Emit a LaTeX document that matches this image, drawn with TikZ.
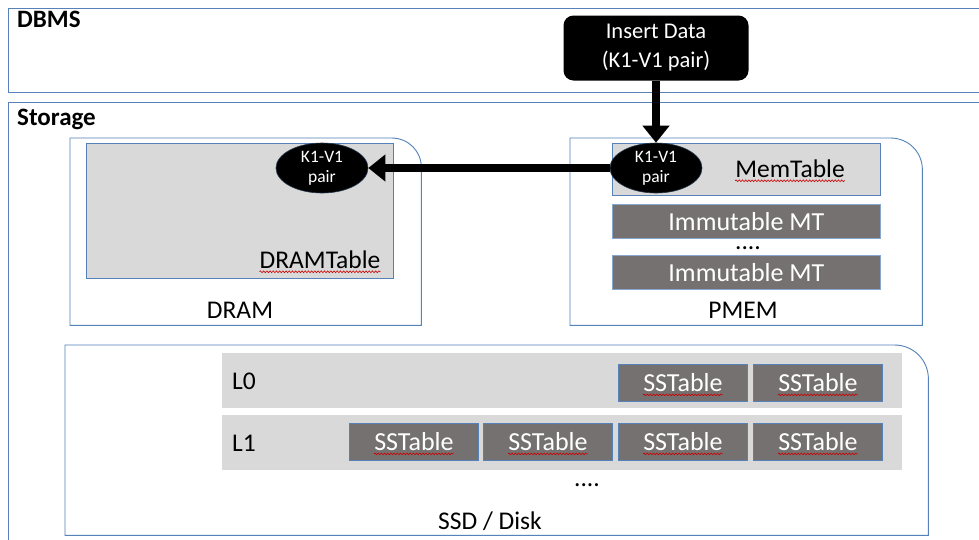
\documentclass[tikz,border=0pt]{standalone}
\usepackage{fontspec}
\setmainfont{Carlito}
\usepackage{tikz}
\usetikzlibrary{arrows.meta,positioning,shapes.geometric,decorations.pathmorphing}
\definecolor{ln}{RGB}{84,130,185}
\definecolor{tblfill}{RGB}{217,217,217}
\definecolor{mtfill}{RGB}{118,113,113}

\begin{document}
\begin{tikzpicture}[
  x=1pt, y=-1pt, every node/.style={inner sep=0pt},
  area/.style={draw=ln, line width=0.9pt, anchor=north west},
  tier/.style={anchor=north west},
  outline/.style={draw=ln, line width=0.9pt},
  title/.style={anchor=base west, font=\fontsize{25}{30}\selectfont\bfseries},
  lbl/.style={font=\fontsize{25.5}{30}\selectfont},
  tbl/.style={draw=ln, line width=0.8pt, fill=tblfill, anchor=north west, minimum width=268pt},
  imm/.style={draw=ln!70, line width=0.8pt, fill=mtfill, text=white, anchor=north west, minimum width=268pt, minimum height=34pt, font=\fontsize{26}{30}\selectfont},
  band/.style={fill=tblfill, anchor=north west, minimum width=680pt, minimum height=55pt},
  sst/.style={draw=ln, line width=0.9pt, fill=mtfill, text=white, anchor=north west, minimum width=129pt, minimum height=37pt, font=\fontsize{26}{30}\selectfont},
  kv/.style={ellipse, fill=black, draw=ln!40!black, line width=0.6pt, text=white, align=center, minimum width=92pt, minimum height=50pt, font=\fontsize{17.5}{20}\selectfont},
  ins/.style={fill=black, rounded corners=10pt, text=white, align=center, minimum width=185pt, minimum height=65pt, font=\fontsize{22.5}{29}\selectfont},
  rel/.style={draw, line width=8pt, -{Triangle[length=17pt, width=26pt]}},
  spell/.style={draw=red!80!black, line width=0.6pt, decorate, decoration={snake, amplitude=0.9pt, segment length=3.2pt}}
]
\useasboundingbox (0,0) rectangle (979,539);
\fill[white] (0,0) rectangle (979,539);

\node[area, minimum width=990pt, minimum height=84pt] (dbms) at (8,8) {};
\node[title] (dbmst) at (17,27) {DBMS};
\node[area, minimum width=990pt, minimum height=460pt] (storage) at (8,102) {};
\node[title] (storaget) at (17,125) {Storage};

\node[tier, minimum width=351pt, minimum height=187pt] (dram) at (70,138) {};
\node[tier, minimum width=352pt, minimum height=187pt] (pmem) at (570,138) {};
\node[tier, minimum width=863pt, minimum height=190pt] (ssd) at (65,345) {};
\foreach \t/\r/\c in {dram/30/13,pmem/32/14,ssd/34/15}
  \draw[outline] (\t.south west) -- (\t.north west) -- ([xshift=-\r pt]\t.north east)
    .. controls ([xshift=-\c pt]\t.north east) and ([yshift=-\c pt]\t.north east)
    .. ([yshift=-\r pt]\t.north east) -- (\t.south east) -- cycle;

\node[tbl, minimum width=307pt, minimum height=135pt] (dramtbl) at (86,143) {};
\node[lbl] (dramtxt) at (320,260) {DRAMTable};
\node[kv] (dramkv) at (322,168) {K1-V1\\pair};
\node[lbl] (dramlbl) at (240,310) {DRAM};

\node[tbl, minimum height=52pt] (memtbl) at (612,143) {};
\node[lbl] (memtxt) at (790,169) {MemTable};
\node[kv] (memkv) at (656,168) {K1-V1\\pair};
\node[imm] (imm1) at (612,204) {Immutable MT};
\node[lbl] (immdots) at (748,248) {....};
\node[imm] (imm2) at (612,255) {Immutable MT};
\node[lbl] (pmemlbl) at (743,310) {PMEM};

\node[ins] (ins) at (656,48) {Insert Data\\(K1-V1 pair)};

\node[band] (l0) at (222,353) {};
\node[band] (l1) at (222,415) {};
\node[lbl, anchor=west] (l0txt) at (232,381) {L0};
\node[lbl, anchor=west] (l1txt) at (232,443) {L1};
\foreach \i/\x in {1/618,2/753}
  \node[sst] (l0s\i) at (\x,364) {SSTable};
\foreach \i/\x in {1/349,2/483,3/618,4/753}
  \node[sst] (l1s\i) at (\x,423) {SSTable};
\node[lbl] (ssddots) at (587,485) {....};
\node[lbl] (ssdlbl) at (490,521) {SSD / Disk};

\draw[rel] (ins) -- (memkv);
\draw[rel] (memkv) -- (dramkv);

\foreach \n in {dramtxt,memtxt}
  \draw[spell] ([yshift=-3pt]\n.base west) -- ([yshift=-3pt]\n.base east);
\foreach \n in {l0s1,l0s2,l1s1,l1s2,l1s3,l1s4}
  \draw[spell] ([xshift=-40pt,yshift=-3pt]\n.base) -- ([xshift=40pt,yshift=-3pt]\n.base);
\end{tikzpicture}
\end{document}
